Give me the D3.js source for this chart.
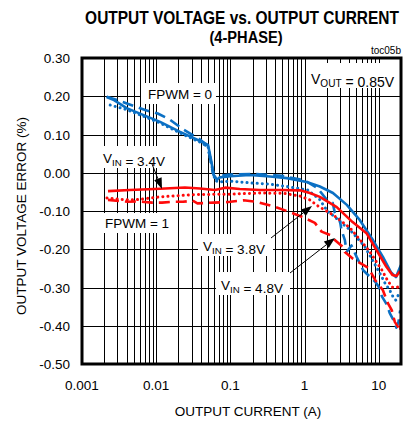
<!DOCTYPE html>
<html><head><meta charset="utf-8">
<script src="https://cdn.jsdelivr.net/npm/d3@7"></script>
<style>body{margin:0;background:#fff} svg{display:block}</style>
</head><body>
<svg id="c" width="404" height="424"></svg>
<script>
// ---------- data ----------
const xTicks = [0.001, 0.01, 0.1, 1, 10];
const xTickLabels = ["0.001", "0.01", "0.1", "1", "10"];
const yTicks = [0.3, 0.2, 0.1, 0.0, -0.1, -0.2, -0.3, -0.4, -0.5];
const yTickLabels = ["0.30", "0.20", "0.10", "0.00", "-0.10", "-0.20", "-0.30", "-0.40", "-0.50"];

// FPWM = 0 (blue)
const fpwm0_vin34 = [[0.00215,0.198],[0.0027,0.19],[0.004,0.169],[0.0073,0.148],[0.0113,0.133],[0.021,0.107],[0.039,0.083],[0.05,0.073],[0.055,0.033],[0.06,-0.008],[0.066,-0.018],[0.072,-0.012],[0.1,-0.009],[0.183,-0.006],[0.342,-0.01],[0.58,-0.014],[1.07,-0.024],[1.61,-0.036],[2.42,-0.053],[3.72,-0.084],[5.58,-0.124],[8.36,-0.176],[11.4,-0.22],[14.6,-0.26],[17.1,-0.273],[18.7,-0.254],[20,-0.241]];
const fpwm0_vin38 = [[0.0024,0.177],[0.004,0.165],[0.0073,0.145],[0.0113,0.13],[0.021,0.104],[0.039,0.08],[0.05,0.068],[0.056,0.02],[0.062,-0.02],[0.07,-0.024],[0.1,-0.022],[0.2,-0.027],[0.35,-0.03],[0.58,-0.036],[1.1,-0.045],[1.6,-0.07],[2.07,-0.102],[2.56,-0.115],[3.15,-0.132],[3.68,-0.141],[4.46,-0.157],[6.5,-0.193],[8.5,-0.233],[10.4,-0.263],[12.2,-0.289],[14.1,-0.307],[15.6,-0.324],[17,-0.333],[19,-0.314]];
const fpwm0_vin48 = [[0.00215,0.199],[0.003,0.19],[0.0042,0.18],[0.0071,0.164],[0.0105,0.155],[0.015,0.14],[0.0237,0.112],[0.037,0.09],[0.045,0.077],[0.052,0.05],[0.058,0.0],[0.062,-0.012],[0.07,-0.008],[0.1,-0.005],[0.2,-0.003],[0.5,-0.008],[1.0,-0.02],[1.5,-0.04],[2.0,-0.071],[2.4,-0.079],[2.57,-0.105],[3.0,-0.124],[3.15,-0.15],[3.5,-0.176],[3.7,-0.207],[4.3,-0.19],[5.04,-0.22],[6.18,-0.255],[9.0,-0.285],[10.0,-0.298],[11.1,-0.324],[13.0,-0.346],[14.1,-0.367],[16.6,-0.393],[17.3,-0.405],[18.5,-0.39],[19.5,-0.36]];

// FPWM = 1 (red)
const fpwm1_vin34 = [[0.00224,-0.048],[0.0044,-0.045],[0.0113,-0.042],[0.0244,-0.0386],[0.039,-0.041],[0.062,-0.045],[0.085,-0.039],[0.134,-0.0425],[0.251,-0.045],[0.467,-0.045],[0.868,-0.046],[1.18,-0.053],[1.61,-0.063],[2.72,-0.09],[4.45,-0.129],[6.85,-0.158],[9.34,-0.202],[12.7,-0.246],[15.3,-0.267],[17.4,-0.27],[19.5,-0.257]];
const fpwm1_vin38 = [[0.00217,-0.066],[0.0035,-0.07],[0.00518,-0.071],[0.0113,-0.063],[0.0333,-0.057],[0.0986,-0.056],[0.251,-0.053],[0.54,-0.054],[0.87,-0.061],[1.18,-0.071],[1.52,-0.087],[2.42,-0.11],[4.1,-0.144],[7.3,-0.202],[11.1,-0.255],[13.3,-0.283],[15.3,-0.299],[17.5,-0.3],[19.5,-0.296]];
const fpwm1_vin48 = [[0.00224,-0.071],[0.0042,-0.076],[0.0057,-0.075],[0.0088,-0.078],[0.012,-0.078],[0.017,-0.076],[0.023,-0.076],[0.031,-0.073],[0.036,-0.08],[0.06,-0.078],[0.085,-0.077],[0.1,-0.076],[0.15,-0.072],[0.225,-0.076],[0.4,-0.089],[0.68,-0.105],[0.95,-0.116],[1.38,-0.131],[1.7,-0.154],[2.24,-0.163],[2.56,-0.176],[3.3,-0.194],[3.5,-0.207],[4.5,-0.225],[6.2,-0.241],[7.3,-0.249],[9.0,-0.281],[11.4,-0.307],[13.3,-0.341],[15,-0.359],[16.5,-0.39],[18.2,-0.403],[19.6,-0.415],[20,-0.367]];

const titleLines = ["OUTPUT VOLTAGE vs. OUTPUT CURRENT", "(4-PHASE)"];
const xTitle = "OUTPUT CURRENT  (A)";
const yTitle = "OUTPUT VOLTAGE  ERROR (%)";

// ---------- drawing ----------
const BLUE = "#0b70c4", RED = "#ff0a0a";
const svg = d3.select("#c");
const L = 82, R = 401, T = 58, B = 364;
const x = d3.scaleLog().domain([0.001, 20]).range([L, R]);
const y = d3.scaleLinear().domain([-0.5, 0.3]).range([B, T]);
const FONT = "'Liberation Sans', Arial, sans-serif";

svg.append("rect").attr("width", 404).attr("height", 424).attr("fill", "#fff");

// grid
const minor = [];
for (let k = -3; k <= 1; k++) for (let m = 1; m <= 9; m++) {
  const v = m * Math.pow(10, k);
  if (v > 0.0011 && v < 19.5) minor.push(v);
}
const grid = svg.append("g").attr("stroke", "#000").attr("stroke-width", 1).attr("shape-rendering", "crispEdges");
grid.selectAll("line.v").data(minor).join("line").attr("class", "v")
  .attr("x1", d => Math.round(x(d)) + 0.5).attr("x2", d => Math.round(x(d)) + 0.5)
  .attr("y1", T).attr("y2", B);
grid.selectAll("line.h").data(yTicks.slice(1, -1)).join("line").attr("class", "h")
  .attr("y1", d => Math.round(y(d)) + 0.5).attr("y2", d => Math.round(y(d)) + 0.5)
  .attr("x1", L).attr("x2", R);

// curves
svg.append("clipPath").attr("id", "plot").append("rect")
  .attr("x", L).attr("y", T).attr("width", R - L).attr("height", B - T);
const line = d3.line().x(d => x(d[0])).y(d => y(d[1]));
const series = [
  {d: fpwm0_vin34, c: BLUE, dash: null},
  {d: fpwm0_vin48, c: BLUE, dash: "11,6"},
  {d: fpwm0_vin38, c: BLUE, dash: "0.1,5"},
  {d: fpwm1_vin34, c: RED, dash: null},
  {d: fpwm1_vin48, c: RED, dash: "11,6"},
  {d: fpwm1_vin38, c: RED, dash: "0.1,5"}
];
const cg = svg.append("g").attr("clip-path", "url(#plot)");
series.forEach(s => {
  cg.append("path").attr("d", line(s.d)).attr("fill", "none")
    .attr("stroke", s.c).attr("stroke-width", s.dash === "0.1,5" ? 3 : 2.6)
    .attr("stroke-linecap", s.dash === "0.1,5" ? "round" : "butt")
    .attr("stroke-linejoin", "round")
    .attr("stroke-dasharray", s.dash);
});

// labels with white boxes
function label(bx, by, bw, bh, tx, ty, parts, size) {
  svg.append("rect").attr("x", bx).attr("y", by).attr("width", bw).attr("height", bh).attr("fill", "#fff");
  const t = svg.append("text").attr("x", tx).attr("y", ty).attr("font-family", FONT)
    .attr("font-size", size).attr("fill", "#000");
  parts.forEach(p => {
    if (p.sub) {
      t.append("tspan").attr("font-size", size * 0.72).attr("dy", 3).text(p.t);
      t.append("tspan").attr("dy", -3).text("");
    } else t.append("tspan").text(p.t);
  });
  return t;
}
label(141, 83, 75, 21, 148, 99, [{t: "FPWM = 0"}], 13.5);
label(306, 63, 93, 25, 311, 84, [{t: "V"}, {t: "OUT", sub: true}, {t: " = 0.85V"}], 14);
label(98, 146, 73, 22, 103, 163, [{t: "V"}, {t: "IN", sub: true}, {t: " = 3.4V"}], 13.5);
label(100, 213, 71, 20, 105, 228, [{t: "FPWM = 1"}], 13.5);
label(198, 234, 75, 22, 203, 251, [{t: "V"}, {t: "IN", sub: true}, {t: " = 3.8V"}], 13.5);
label(216, 272, 74, 23, 221, 290, [{t: "V"}, {t: "IN", sub: true}, {t: " = 4.8V"}], 13.5);

// arrows
function arrow(x1, y1, x2, y2) {
  const dx = x2 - x1, dy = y2 - y1, len = Math.hypot(dx, dy);
  const ux = dx / len, uy = dy / len, hl = 11, hw = 4;
  const bx = x2 - ux * hl, by = y2 - uy * hl;
  svg.append("line").attr("x1", x1).attr("y1", y1).attr("x2", bx).attr("y2", by)
    .attr("stroke", "#000").attr("stroke-width", 1);
  svg.append("polygon").attr("fill", "#000")
    .attr("points", [[x2, y2], [bx - uy * hw, by + ux * hw], [bx + uy * hw, by - ux * hw]].map(p => p.join(",")).join(" "));
}
arrow(152, 164, 162, 189);
arrow(271, 238, 312, 206);
arrow(290, 273, 335, 238);

// frame
svg.append("rect").attr("x", L).attr("y", T).attr("width", R - L).attr("height", B - T)
  .attr("fill", "none").attr("stroke", "#000").attr("stroke-width", 3);

// axes tick labels
svg.append("g").selectAll("text").data(yTicks).join("text")
  .attr("x", 70).attr("y", d => y(d) + 5).attr("text-anchor", "end")
  .attr("font-family", FONT).attr("font-size", 13.5).text((d, i) => yTickLabels[i]);
svg.append("g").selectAll("text").data(xTicks).join("text")
  .attr("x", d => x(d)).attr("y", 390).attr("text-anchor", "middle")
  .attr("font-family", FONT).attr("font-size", 13.5).text((d, i) => xTickLabels[i]);

// titles (condensed bold, like the original narrow face)
const TF = "'Liberation Sans Narrow', 'Arial Narrow', " + FONT;
svg.append("text").attr("transform", "translate(242,24) scale(0.86,1)").attr("text-anchor", "middle")
  .attr("font-family", TF).attr("font-weight", "bold").attr("font-size", 18).text(titleLines[0]);
svg.append("text").attr("transform", "translate(246,43) scale(0.86,1)").attr("text-anchor", "middle")
  .attr("font-family", TF).attr("font-weight", "bold").attr("font-size", 17).text(titleLines[1]);
svg.append("text").attr("x", 401).attr("y", 54).attr("text-anchor", "end")
  .attr("font-family", FONT).attr("font-size", 10).text("toc05b");
svg.append("text").attr("x", 248).attr("y", 416).attr("text-anchor", "middle")
  .attr("font-family", FONT).attr("font-size", 13.5).text(xTitle);
svg.append("text").attr("transform", "translate(26,216) rotate(-90)").attr("text-anchor", "middle")
  .attr("font-family", FONT).attr("font-size", 13.5).text(yTitle);
</script>
</body></html>
